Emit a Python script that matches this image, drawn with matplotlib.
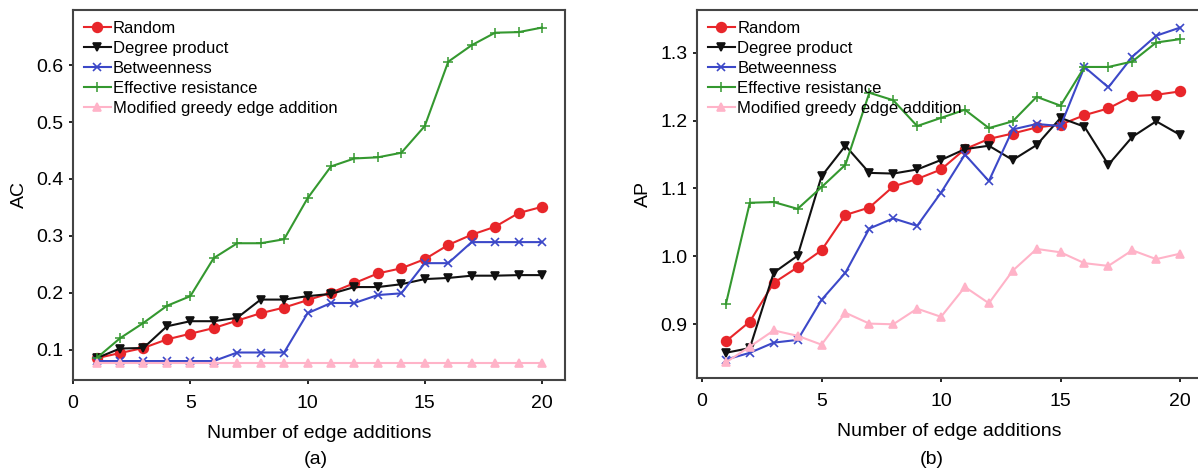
import numpy as np
import matplotlib.pyplot as plt

# number of edge additions
k = list(range(1, 21))

# (a) AC values
ac_random = [0.085, 0.094, 0.103, 0.118, 0.128, 0.138, 0.151, 0.164, 0.174, 0.187,
             0.200, 0.217, 0.234, 0.243, 0.259, 0.284, 0.302, 0.316, 0.340, 0.351]
ac_degree = [0.085, 0.102, 0.103, 0.141, 0.150, 0.150, 0.156, 0.188, 0.188, 0.194,
             0.198, 0.210, 0.210, 0.215, 0.224, 0.226, 0.230, 0.230, 0.231, 0.231]
ac_betw = [0.080, 0.080, 0.080, 0.080, 0.080, 0.080, 0.095, 0.095, 0.095, 0.164,
           0.182, 0.182, 0.196, 0.199, 0.252, 0.252, 0.289, 0.289, 0.289, 0.289]
ac_effres = [0.085, 0.120, 0.147, 0.177, 0.194, 0.261, 0.287, 0.287, 0.294, 0.366,
             0.422, 0.436, 0.438, 0.446, 0.493, 0.606, 0.635, 0.657, 0.658, 0.666]
ac_greedy = [0.077] * 20

# (b) AP values
ap_random = [0.875, 0.904, 0.961, 0.984, 1.009, 1.061, 1.072, 1.103, 1.114, 1.128,
             1.158, 1.173, 1.181, 1.190, 1.194, 1.208, 1.218, 1.236, 1.238, 1.243]
ap_degree = [0.858, 0.865, 0.976, 1.001, 1.118, 1.163, 1.123, 1.122, 1.128, 1.142,
             1.158, 1.163, 1.142, 1.164, 1.204, 1.191, 1.135, 1.176, 1.199, 1.179]
ap_betw = [0.848, 0.858, 0.873, 0.877, 0.936, 0.976, 1.041, 1.056, 1.045, 1.094,
           1.150, 1.111, 1.187, 1.195, 1.192, 1.279, 1.249, 1.294, 1.325, 1.337]
ap_effres = [0.930, 1.079, 1.080, 1.070, 1.102, 1.135, 1.241, 1.230, 1.192, 1.204,
             1.216, 1.189, 1.199, 1.235, 1.222, 1.279, 1.279, 1.287, 1.315, 1.320]
ap_greedy = [0.844, 0.867, 0.891, 0.883, 0.870, 0.917, 0.901, 0.900, 0.923, 0.911,
             0.955, 0.931, 0.979, 1.011, 1.006, 0.990, 0.986, 1.009, 0.996, 1.004]

names = ["Random", "Degree product", "Betweenness", "Effective resistance",
         "Modified greedy edge addition"]
colors = ["#e8262a", "#111111", "#3c48c8", "#34982f", "#ffb3c8"]
markers = ["o", "v", "x", "+", "^"]
msizes = [7, 6, 6, 7, 6]
medges = [1.2, 1.2, 1.2, 1.1, 1.2]

plt.rcParams['font.family'] = 'Liberation Sans'

fig = plt.figure(figsize=(11.98, 4.73), dpi=100)
ax1 = fig.add_axes([0.061, 0.197, 0.411, 0.782])
ax2 = fig.add_axes([0.582, 0.201, 0.42, 0.778])


def draw(ax, series, ylabel):
    for s, n, c, m, ms, me in zip(series, names, colors, markers, msizes, medges):
        ax.plot(k, s, color=c, marker=m, markersize=ms, linewidth=1.5,
                markeredgewidth=me, label=n)
    ax.set_ylabel(ylabel, fontsize=14, labelpad=6)
    ax.set_xlabel("Number of edge additions", fontsize=14, labelpad=9)
    ax.tick_params(labelsize=14, length=3, width=1.2, direction='out', pad=4)
    ax.tick_params(axis='x', pad=8)
    for sp in ax.spines.values():
        sp.set_color('#444444')
        sp.set_linewidth(1.5)
    ax.legend(loc='upper left', frameon=False, fontsize=12, handlelength=1.6,
              handletextpad=0.15, labelspacing=0.3, borderaxespad=0.25)


draw(ax1, [ac_random, ac_degree, ac_betw, ac_effres, ac_greedy], "AC")
ax1.set_xlim(0, 21)
ax1.set_ylim(0.047, 0.697)
ax1.set_xticks([0, 5, 10, 15, 20])
ax1.set_yticks([0.1, 0.2, 0.3, 0.4, 0.5, 0.6])

draw(ax2, [ap_random, ap_degree, ap_betw, ap_effres, ap_greedy], "AP")
ax2.set_xlim(-0.2, 20.85)
ax2.set_ylim(0.821, 1.363)
ax2.set_xticks([0, 5, 10, 15, 20])
ax2.set_yticks([0.9, 1.0, 1.1, 1.2, 1.3])

fig.text(0.264, 0.028, "(a)", fontsize=14, ha='center', va='center')
fig.text(0.778, 0.028, "(b)", fontsize=14, ha='center', va='center')

fig.savefig("out.png", dpi=100)
